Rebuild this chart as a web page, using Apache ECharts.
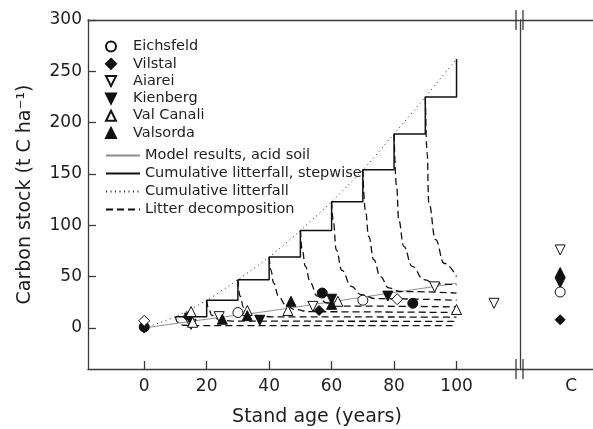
<!DOCTYPE html>
<html><head><meta charset="utf-8">
<script src="https://cdn.jsdelivr.net/npm/echarts@6/dist/echarts.min.js"></script>
<style>html,body{margin:0;padding:0;background:#fff}#c{width:593px;height:429px}</style>
</head><body><div id="c"></div>
<script>
// ---- data ----
const xTicks = [0, 20, 40, 60, 80, 100];
const yTicks = [0, 50, 100, 150, 200, 250, 300];
const panelLabel = 'C';

const cumAges = [0, 10, 20, 30, 40, 50, 60, 70, 80, 90, 100];
const cumValues = [0, 11, 27, 47, 69, 95, 123, 154, 189, 225, 262];
const stepAges = [10, 20, 30, 40, 50, 60, 70, 80, 90, 100];
const stepLevels = [11, 27, 47, 69, 95, 123, 154, 189, 225, 262];

const modelAges = [0, 20, 40, 60, 80, 100];
const modelValues = [0, 8.5, 16.5, 25.5, 34.5, 43.5];

const decay10 = [[10,11],[10.6,6],[11.3,3.5],[12.5,2.6],[15,2.3],[100,2.2]];
const decay20 = [[20,27],[20.7,18],[21.6,12.5],[23,9],[25.5,7.2],[29,6.6],[100,6.4]];
const decay30 = [[30,47],[30.7,31],[31.8,20],[33.5,14.5],[36.5,11.8],[41,10.8],[100,10.5]];
const decay40 = [[40,69],[40.6,56],[41.4,44],[43,31],[45.2,22.7],[48,18],[53,15.8],[100,15]];
const decay50 = [[50,95],[50.6,76],[51.6,60],[53.2,44],[55.4,31],[58.5,24.3],[63,21.3],[100,20.5]];
const decay60 = [[60,123],[60.5,105],[61.5,76],[63.3,56],[66.3,40.5],[69.5,32.4],[74,28.5],[100,27]];
const decay70 = [[70,154],[70.8,115],[71.9,89],[73.5,66.5],[75.6,50],[78.3,39],[82,35.5],[100,34]];
const decay80 = [[80,189],[80.8,138],[81.5,105],[83.1,79.5],[85.8,60],[89.5,47],[93.5,43],[100,42]];
const decay90 = [[90,225],[90.6,170],[91.1,122],[93.3,86],[96,63],[100,50]];

const eichsfeld = [[30,15],[70,27]];
const vilstal   = [[0,0],[14,11],[56,17]];
const aiarei    = [[15,3.5],[24,11],[54,21],[93,40],[112,24]];
const kienberg  = [[14.5,9.5],[37,7.5],[60,28],[78,31]];
const valCanali = [[15,16],[15.5,5.5],[33,17],[46,17],[62,26],[100,18]];
const valsorda  = [[25,8.5],[33,12],[47,26],[60,23]];
const otherFilledCircle = [[0,1],[57,34],[86,24]];
const otherOpenDiamond  = [[0,7],[81,28]];

const cSites  = ['Aiarei', 'Valsorda', 'Kienberg', 'Eichsfeld', 'Vilstal'];
const cValues = [76, 54, 44, 35, 8];

const siteNames = ['Eichsfeld','Vilstal','Aiarei','Kienberg','Val Canali','Valsorda'];
const lineNames = ['Model results, acid soil','Cumulative litterfall, stepwise','Cumulative litterfall','Litter decomposition'];

// ---- styling ----
const FONT = 'DejaVu Sans';
const AX = '#3a3a3a';
const TXT = '#1e1e1e';
const cX = 0.55; // horizontal place of the C markers inside the right panel
const UP = 'path://M5,0 L10,10 L0,10 Z';
const DOWN = 'path://M0,0 L10,0 L5,10 Z';
const DIAM = 'path://M5,0 L10,5 L5,10 L0,5 Z';
const siteStyle = {
  'Eichsfeld':  {symbol:'circle', fill:'#fff', size:10},
  'Vilstal':    {symbol:DIAM,     fill:'#111', size:10},
  'Aiarei':     {symbol:DOWN,     fill:'#fff', size:10},
  'Kienberg':   {symbol:DOWN,     fill:'#111', size:10},
  'Val Canali': {symbol:UP,       fill:'#fff', size:10},
  'Valsorda':   {symbol:UP,       fill:'#111', size:10},
  'other1':     {symbol:'circle', fill:'#111', size:10},
  'other2':     {symbol:DIAM,     fill:'#fff', size:11}
};
function scatter(name, data, xi, yi) {
  const s = siteStyle[name];
  return {
    type:'scatter', name:name, xAxisIndex:xi, yAxisIndex:yi, data:data,
    symbol:s.symbol, symbolSize:s.size, symbolKeepAspect:true, z:5,
    itemStyle:{color:s.fill, borderColor:'#111', borderWidth:1, opacity:1},
    emphasis:{disabled:true}
  };
}
const NOFILL = {color:'rgba(0,0,0,0)', opacity:0};
const dashed = {color:'#111', width:1.3, type:[7,4]};
const decays = [decay10,decay20,decay30,decay40,decay50,decay60,decay70,decay80,decay90];

const series = [];
series.push({type:'line', name:lineNames[0], xAxisIndex:0, yAxisIndex:0, symbol:'none', smooth:true,
  data: modelAges.map((a,i)=>[a, modelValues[i]]), lineStyle:{color:'#8c8c8c', width:1}, itemStyle:NOFILL, z:2});
series.push({type:'line', name:lineNames[1], xAxisIndex:0, yAxisIndex:0, symbol:'none', step:'end',
  data: stepAges.map((a,i)=>[a, stepLevels[i]]), lineStyle:{color:'#111', width:1.5}, itemStyle:NOFILL, z:3});
series.push({type:'line', name:lineNames[2], xAxisIndex:0, yAxisIndex:0, symbol:'none', smooth:0.3,
  data: cumAges.map((a,i)=>[a, cumValues[i]]), lineStyle:{color:'#222', width:1, type:[1,3.5]}, itemStyle:NOFILL, z:2});
decays.forEach(d => series.push({type:'line', name:lineNames[3], xAxisIndex:0, yAxisIndex:0, symbol:'none',
  smooth:0.45, smoothMonotone:'x', data:d, lineStyle:dashed, itemStyle:NOFILL, z:3}));

series.push(scatter('Eichsfeld', eichsfeld, 0, 0));
series.push(scatter('Vilstal', vilstal, 0, 0));
series.push(scatter('Aiarei', aiarei, 0, 0));
series.push(scatter('Kienberg', kienberg, 0, 0));
series.push(scatter('Val Canali', valCanali, 0, 0));
series.push(scatter('Valsorda', valsorda, 0, 0));
series.push(scatter('other1', otherFilledCircle, 0, 0));
series.push(scatter('other2', otherOpenDiamond, 0, 0));
cSites.forEach((n,i) => series.push(scatter(n, [[cX, cValues[i]]], 2, 1)));

const axisLine = {show:true, onZero:false, lineStyle:{color:AX, width:1.3}};
const labelStyle = {fontFamily:FONT, fontSize:17, color:TXT};

const option = {
  animation:false,
  backgroundColor:'#fff',
  textStyle:{fontFamily:FONT},
  grid:[{left:88, right:74, top:20, bottom:60, outerBoundsMode:'none', containLabel:false},
        {left:520, right:0, top:20, bottom:60, outerBoundsMode:'none', containLabel:false}],
  xAxis:[
    {gridIndex:0, type:'value', min:-18, max:120, position:'bottom', axisLine:axisLine,
     axisTick:{show:true, inside:true, length:8, customValues:xTicks, lineStyle:{color:AX, width:1.3}},
     axisLabel:Object.assign({customValues:xTicks, margin:9}, labelStyle),
     splitLine:{show:false},
     name:'Stand age (years)', nameLocation:'middle', nameGap:39,
     nameTextStyle:{fontFamily:FONT, fontSize:19, color:TXT, padding:[0,0,0,27]}},
    {gridIndex:0, type:'value', min:-18, max:120, position:'top', axisLine:axisLine,
     axisTick:{show:false}, axisLabel:{show:false}, splitLine:{show:false}},
    {gridIndex:1, type:'value', min:0, max:1, position:'bottom', axisLine:axisLine,
     axisTick:{show:false},
     axisLabel:Object.assign({customValues:[0.7], margin:9, formatter:()=>panelLabel}, labelStyle),
     splitLine:{show:false}},
    {gridIndex:1, type:'value', min:0, max:1, position:'top', axisLine:axisLine,
     axisTick:{show:false}, axisLabel:{show:false}, splitLine:{show:false}}
  ],
  yAxis:[
    {gridIndex:0, type:'value', min:-40, max:300, axisLine:axisLine,
     axisTick:{show:true, inside:true, length:8, customValues:yTicks, lineStyle:{color:AX, width:1.3}},
     axisLabel:Object.assign({customValues:yTicks, margin:6}, labelStyle),
     splitLine:{show:false},
     name:'Carbon stock (t C ha\u207B\u00B9)', nameLocation:'middle', nameGap:53,
     nameTextStyle:{fontFamily:FONT, fontSize:19, color:TXT}},
    {gridIndex:1, type:'value', min:-40, max:300, axisLine:axisLine,
     axisTick:{show:false}, axisLabel:{show:false}, splitLine:{show:false}}
  ],
  legend:[
    {data:siteNames, orient:'vertical', left:100, top:34, itemWidth:34, itemHeight:10, itemGap:2.3,
     symbolKeepAspect:true, selectedMode:false, textStyle:{fontFamily:FONT, fontSize:14.5, color:TXT}},
    {data:lineNames, orient:'vertical', left:100, top:143, itemWidth:34, itemHeight:10, itemGap:3,
     selectedMode:false, itemStyle:{opacity:0}, textStyle:{fontFamily:FONT, fontSize:14.5, color:TXT}}
  ],
  graphic:[
    {type:'line', shape:{x1:516, y1:10, x2:516, y2:30}, style:{stroke:AX, lineWidth:1.3}},
    {type:'line', shape:{x1:523, y1:10, x2:523, y2:30}, style:{stroke:AX, lineWidth:1.3}},
    {type:'line', shape:{x1:516, y1:359, x2:516, y2:379}, style:{stroke:AX, lineWidth:1.3}},
    {type:'line', shape:{x1:523, y1:359, x2:523, y2:379}, style:{stroke:AX, lineWidth:1.3}}
  ],
  series:series
};
const chart = echarts.init(document.getElementById('c'), null, {renderer:'canvas'});
chart.setOption(option);
</script></body></html>
